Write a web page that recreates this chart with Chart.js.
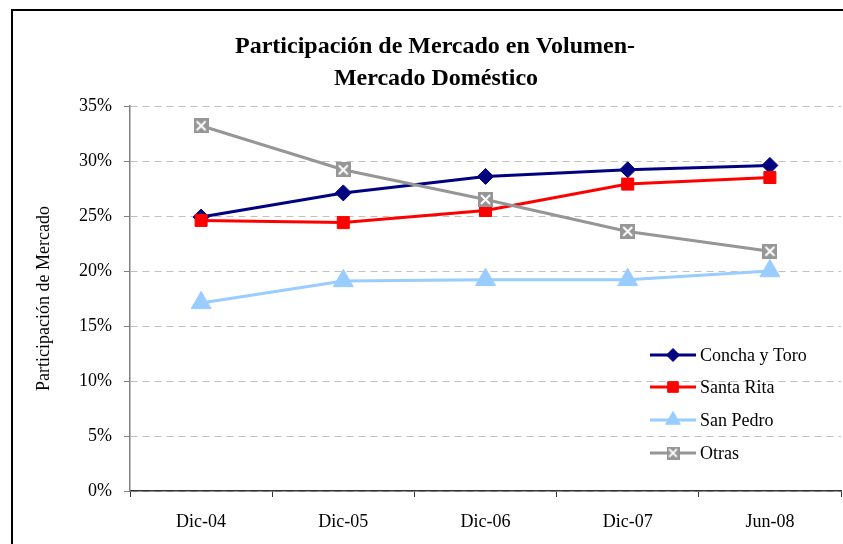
<!DOCTYPE html>
<html>
<head>
<meta charset="utf-8">
<script src="https://cdn.jsdelivr.net/npm/chart.js@4.4.1/dist/chart.umd.min.js"></script>
<style>
  html, body { margin: 0; padding: 0; background: #fff; }
  #wrap { width: 843px; height: 544px; }
</style>
</head>
<body>
<div id="wrap"><canvas id="chart" width="843" height="544"></canvas></div>
<script>
const categories = ["Dic-04", "Dic-05", "Dic-06", "Dic-07", "Jun-08"];
const conchaYToro = [24.9, 27.1, 28.6, 29.2, 29.6];
const santaRita = [24.6, 24.4, 25.5, 27.9, 28.5];
const sanPedro = [17.1, 19.1, 19.2, 19.2, 20.0];
const otras = [33.2, 29.2, 26.5, 23.6, 21.8];
const seriesNames = ["Concha y Toro", "Santa Rita", "San Pedro", "Otras"];
const titleLines = ["Participación de Mercado en Volumen-", "Mercado Doméstico"];
const yAxisTitle = "Participación de Mercado";

const serif = "'Liberation Serif', 'Times New Roman', serif";

// gray box with white X, like the Excel marker
const makeXBox = (size) => {
  const c = document.createElement("canvas");
  c.width = size;
  c.height = size;
  const g = c.getContext("2d");
  g.fillStyle = "#969696";
  g.fillRect(0, 0, size, size);
  g.strokeStyle = "#fff";
  g.lineWidth = 2;
  const p = size * 0.2;
  g.beginPath();
  g.moveTo(p, p);
  g.lineTo(size - p, size - p);
  g.moveTo(size - p, p);
  g.lineTo(p, size - p);
  g.stroke();
  return c;
};
const xBox = makeXBox(15);
const xBoxSmall = makeXBox(13);

const datasets = [
  { label: seriesNames[0], data: conchaYToro, borderColor: "#000080", backgroundColor: "#000080",
    pointStyle: "rectRot", pointRadius: 8, order: 4 },
  { label: seriesNames[1], data: santaRita, borderColor: "#ff0000", backgroundColor: "#ff0000",
    pointStyle: "rect", pointRadius: 8.5, order: 3 },
  { label: seriesNames[2], data: sanPedro, borderColor: "#99ccff", backgroundColor: "#99ccff",
    pointStyle: "triangle", pointRadius: 11.5, order: 2 },
  { label: seriesNames[3], data: otras, borderColor: "#969696", backgroundColor: "#969696",
    pointStyle: xBox, pointRadius: 7, order: 1 },
].map((d) => ({
  ...d,
  borderWidth: 3,
  tension: 0,
  pointBorderWidth: 1,
  pointBorderColor: d.borderColor,
  pointBackgroundColor: d.backgroundColor,
  pointHoverRadius: d.pointRadius,
}));

const legendSmall = [
  { pointStyle: "rectRot", radius: 6.5 },
  { pointStyle: "rect", radius: 7.5 },
  { pointStyle: "triangle", radius: 8.5 },
  { pointStyle: xBoxSmall, radius: 6 },
];

const framePlugin = {
  id: "frame",
  beforeDraw: (chart) => {
    const ctx = chart.ctx;
    ctx.save();
    ctx.fillStyle = "#fff";
    ctx.fillRect(0, 0, chart.width, chart.height);
    ctx.restore();
  },
  afterDraw: (chart) => {
    const ctx = chart.ctx;
    ctx.save();
    // outer border (only left and top are visible in the crop)
    ctx.strokeStyle = "#000";
    ctx.lineWidth = 2;
    ctx.beginPath();
    ctx.moveTo(12, chart.height + 5);
    ctx.lineTo(12, 10);
    ctx.lineTo(chart.width + 5, 10);
    ctx.stroke();

    // title
    ctx.fillStyle = "#000";
    ctx.font = `bold 24px ${serif}`;
    ctx.textAlign = "center";
    ctx.textBaseline = "alphabetic";
    ctx.fillText(titleLines[0], 435, 53);
    ctx.fillText(titleLines[1], 436, 85);

    // legend
    const x0 = 650, x1 = 696;
    const rows = [355, 387, 420, 453];
    chart.data.datasets.forEach((ds, i) => {
      const y = rows[i];
      ctx.strokeStyle = ds.borderColor;
      ctx.lineWidth = 3;
      ctx.beginPath();
      ctx.moveTo(x0, y);
      ctx.lineTo(x1, y);
      ctx.stroke();
      ctx.fillStyle = ds.backgroundColor;
      ctx.strokeStyle = ds.borderColor;
      ctx.lineWidth = 1;
      Chart.helpers.drawPoint(ctx, {
        pointStyle: legendSmall[i].pointStyle,
        radius: legendSmall[i].radius,
        rotation: 0,
        borderWidth: 1,
      }, (x0 + x1) / 2, y);
      ctx.fillStyle = "#000";
      ctx.font = `18px ${serif}`;
      ctx.textAlign = "left";
      ctx.textBaseline = "middle";
      ctx.fillText(ds.label, 700, y + 1);
    });
    ctx.restore();
  },
};

new Chart(document.getElementById("chart"), {
  type: "line",
  data: { labels: categories, datasets: datasets },
  options: {
    responsive: false,
    animation: false,
    devicePixelRatio: 1,
    layout: { autoPadding: false, padding: { left: 0, top: 106, right: 2, bottom: 0 } },
    plugins: {
      legend: { display: false },
      tooltip: { enabled: false },
      title: { display: false },
    },
    scales: {
      x: {
        offset: true,
        afterFit: (scale) => {
          scale.height = 53;
          scale.paddingLeft = 0;
          scale.paddingRight = 0;
        },
        grid: {
          offset: true,
          drawOnChartArea: false,
          drawTicks: true,
          tickLength: 6,
          tickColor: "#333",
          tickWidth: 1,
        },
        border: { display: true, color: "#333", width: 1.5 },
        ticks: {
          color: "#000",
          font: { family: serif, size: 18 },
          padding: 14,
          maxRotation: 0,
          autoSkip: false,
        },
      },
      y: {
        min: 0,
        max: 35,
        afterFit: (scale) => { scale.width = 130; },
        ticks: {
          stepSize: 5,
          color: "#000",
          font: { family: serif, size: 18 },
          padding: 12,
          callback: (v) => v + "%",
        },
        grid: {
          color: "#c0c0c0",
          lineWidth: 1,
          drawTicks: true,
          tickLength: 6,
          tickColor: "#808080",
          tickBorderDash: [1, 0],
        },
        border: { display: true, color: "#808080", width: 1.5, dash: [7, 5] },
        title: {
          display: true,
          text: yAxisTitle,
          color: "#000",
          font: { family: serif, size: 18 },
          padding: { top: 33, bottom: 0 },
        },
      },
    },
  },
  plugins: [framePlugin],
});
</script>
</body>
</html>
